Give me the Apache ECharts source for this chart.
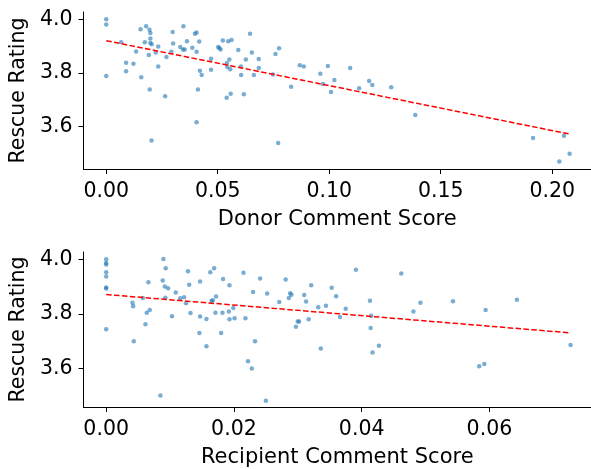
<!DOCTYPE html>
<html>
<head>
<meta charset="utf-8">
<script src="https://cdn.jsdelivr.net/npm/echarts@6/dist/echarts.min.js"></script>
<style>html,body{margin:0;padding:0;background:#fff}#c{width:591px;height:469px}</style>
</head>
<body>
<div id="c"></div>
<script>
// Top panel: Donor Comment Score vs Rescue Rating
const donorX = [0,0,0,0.0067,0.0089,0.0089,0.0122,0.0134,0.0154,0.0157,0.0173,0.0179,0.0191,0.0194,0.0195,0.0198,0.0198,0.0198,0.0204,0.0203,0.0222,0.0233,0.0233,0.0264,0.0270,0.0292,0.0298,0.0300,0.0332,0.0344,0.0346,0.0352,0.0362,0.0386,0.0398,0.0405,0.0405,0.0411,0.0405,0.0417,0.0420,0.0428,0.0470,0.0470,0.0502,0.0507,0.0513,0.0523,0.0540,0.0541,0.0543,0.0547,0.0552,0.0556,0.0558,0.0562,0.0592,0.0604,0.0605,0.0617,0.0626,0.0645,0.0653,0.0662,0.0684,0.0684,0.0748,0.0759,0.0771,0.0775,0.0829,0.0868,0.0886,0.0960,0.0972,0.0994,0.1008,0.1023,0.1094,0.1134,0.1179,0.1193,0.1278,0.1386,0.1914,0.2032,0.2053,0.2078];
const donorY = [4.000,3.981,3.788,3.914,3.838,3.806,3.834,3.880,3.963,3.783,3.914,3.974,3.867,3.961,3.738,3.949,3.928,3.911,3.907,3.547,3.876,3.898,3.824,3.712,3.859,3.879,3.953,3.910,3.896,3.887,3.974,3.887,3.918,3.894,3.946,3.951,3.879,3.738,3.615,3.917,3.808,3.792,3.853,3.811,3.896,3.893,3.887,3.921,3.707,3.837,3.822,3.918,3.850,3.813,3.722,3.923,3.885,3.824,3.792,3.720,3.850,3.946,3.876,3.792,3.852,3.818,3.794,3.870,3.538,3.892,3.748,3.828,3.824,3.796,3.758,3.825,3.728,3.773,3.818,3.742,3.769,3.754,3.746,3.642,3.556,3.468,3.565,3.497];
const donorTrendX = [0, 0.2078];
const donorTrendY = [3.920, 3.571];
const donorTicks = [0, 0.05, 0.10, 0.15, 0.20];

// Bottom panel: Recipient Comment Score vs Rescue Rating
const recipX = [0,0,0,0,0,0,0,0,0.00411,0.00422,0.00432,0.00573,0.00615,0.00635,0.00661,0.00682,0.00849,0.00885,0.00896,0.00917,0.00927,0.00932,0.00969,0.0103,0.0109,0.0116,0.0122,0.0125,0.0128,0.0130,0.0132,0.0146,0.0147,0.0147,0.0157,0.0157,0.0163,0.0165,0.0167,0.0169,0.0171,0.0172,0.0180,0.0182,0.0183,0.0192,0.0193,0.0193,0.0199,0.0201,0.0215,0.0218,0.0222,0.0228,0.0230,0.0233,0.0241,0.0250,0.0252,0.0271,0.0281,0.0286,0.0288,0.0290,0.0297,0.0300,0.0302,0.0310,0.0313,0.0317,0.0321,0.0332,0.0336,0.0344,0.0353,0.0360,0.0366,0.0375,0.0391,0.0413,0.0415,0.0414,0.0417,0.0427,0.0462,0.0481,0.0492,0.0543,0.0584,0.0592,0.0594,0.0643,0.0727];
const recipY = [4.000,3.987,3.981,3.953,3.937,3.897,3.893,3.743,3.841,3.828,3.699,3.858,3.762,3.804,3.916,3.814,3.500,3.922,4.001,3.900,3.859,3.967,3.894,3.791,3.878,3.857,3.861,3.839,3.956,3.907,3.803,3.730,3.919,3.790,3.781,3.681,3.953,3.847,3.850,3.967,3.804,3.864,3.730,3.804,3.928,3.809,3.905,3.780,3.821,3.784,3.951,3.784,3.626,3.599,3.880,3.699,3.930,3.481,3.875,3.843,3.926,3.858,3.876,3.870,3.753,3.772,3.772,3.869,3.845,3.780,3.905,3.824,3.673,3.830,3.896,3.865,3.788,3.819,3.962,3.848,3.793,3.748,3.658,3.683,3.948,3.809,3.841,3.846,3.608,3.616,3.814,3.852,3.686];
const recipTrendX = [0, 0.0727];
const recipTrendY = [3.871, 3.730];
const recipTicks = [0, 0.02, 0.04, 0.06];

const yTicks = [3.6, 3.8, 4.0];

const zip = (a, b) => a.map((v, i) => [v, b[i]]);
const FONT = 'DejaVu Sans';
const axisLine = { show: true, onZero: false, lineStyle: { color: '#000', width: 1 } };
const axisTick = (vals) => ({ show: true, length: 5, lineStyle: { color: '#000', width: 1 }, customValues: vals });

function xAxis(idx, min, max, ticks, name) {
  return {
    type: 'value', gridIndex: idx, min: min, max: max,
    name: name, nameLocation: 'middle', nameGap: 40,
    nameTextStyle: { fontFamily: FONT, fontSize: 21, color: '#000' },
    axisLine: axisLine, axisTick: axisTick(ticks), splitLine: { show: false },
    axisLabel: { customValues: ticks, margin: 12, fontFamily: FONT, fontSize: 20.5, color: '#000',
      formatter: v => v.toFixed(2) }
  };
}
function yAxis(idx, min, max) {
  return {
    type: 'value', gridIndex: idx, min: min, max: max,
    name: 'Rescue Rating', nameLocation: 'middle', nameGap: 54,
    nameTextStyle: { fontFamily: FONT, fontSize: 20.5, color: '#000' },
    axisLine: axisLine, axisTick: axisTick(yTicks), splitLine: { show: false },
    axisLabel: { customValues: yTicks, margin: 11, fontFamily: FONT, fontSize: 20.5, color: '#000',
      formatter: v => v.toFixed(1) }
  };
}
const scatterStyle = { color: '#1f77b4', opacity: 0.6 };
const trendStyle = { color: '#ff0000', width: 1.5, type: [5.5, 2.4] };

const chart = echarts.init(document.getElementById('c'), null, { renderer: 'canvas' });
chart.setOption({
  animation: false,
  backgroundColor: '#fff',
  grid: [
    { left: 82, right: 0, top: 12, height: 157 },
    { left: 82, right: 0, top: 252, height: 156 }
  ],
  xAxis: [
    xAxis(0, -0.0102, 0.2174, donorTicks, 'Donor Comment Score'),
    xAxis(1, -0.00355, 0.0759, recipTicks, 'Recipient Comment Score')
  ],
  yAxis: [
    yAxis(0, 3.4404, 4.0273),
    yAxis(1, 3.458, 4.027)
  ],
  series: [
    { type: 'scatter', xAxisIndex: 0, yAxisIndex: 0, data: zip(donorX, donorY), symbolSize: 4.5, itemStyle: scatterStyle, z: 2 },
    { type: 'line', xAxisIndex: 0, yAxisIndex: 0, data: zip(donorTrendX, donorTrendY), symbol: 'none', lineStyle: trendStyle, z: 3 },
    { type: 'scatter', xAxisIndex: 1, yAxisIndex: 1, data: zip(recipX, recipY), symbolSize: 4.5, itemStyle: scatterStyle, z: 2 },
    { type: 'line', xAxisIndex: 1, yAxisIndex: 1, data: zip(recipTrendX, recipTrendY), symbol: 'none', lineStyle: trendStyle, z: 3 }
  ]
});
</script>
</body>
</html>
